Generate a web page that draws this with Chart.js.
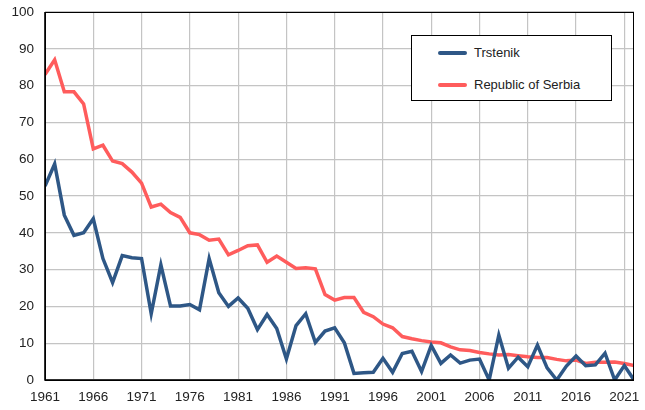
<!DOCTYPE html>
<html>
<head>
<meta charset="utf-8">
<script src="https://cdn.jsdelivr.net/npm/chart.js@4"></script>
<style>
  html, body { margin: 0; padding: 0; background: #fff; }
  #wrap { position: relative; width: 645px; height: 410px; }
  #legend {
    position: absolute; left: 411px; top: 35px; width: 199px; height: 64px;
    border: 1px solid #000; background: #fff;
    font-family: 'Liberation Sans', Arial, sans-serif; font-size: 13px; color: #222;
  }
  .item { position: absolute; left: 26px; height: 16px; line-height: 16px; }
  .swatch { position: absolute; left: 0; top: 6px; width: 29px; height: 4px; border-radius: 2px; }
  .label { position: absolute; left: 36px; top: 0; white-space: nowrap; }
</style>
</head>
<body>
<div id="wrap">
  <canvas id="chart" width="645" height="410"></canvas>
  <div id="legend"></div>
</div>
<script>
// Data
const years = [];
for (let y = 1961; y <= 2022; y++) years.push(y);

const trstenik = [
  52.7, 58.7, 44.8, 39.3, 40.0, 43.8, 33.0, 26.5, 33.8, 33.2,
  33.0, 18.0, 31.3, 20.1, 20.1, 20.5, 19.1, 33.0, 23.7, 20.0,
  22.3, 19.5, 13.7, 17.8, 14.0, 5.7, 14.8, 18.0, 10.2, 13.3,
  14.2, 10.1, 1.8, 2.0, 2.1, 5.9, 2.1, 7.2, 7.8, 2.3,
  9.4, 4.5, 6.8, 4.6, 5.4, 5.7, 0.0, 12.2, 3.2, 6.2,
  3.6, 9.5, 3.3, 0.0, 3.8, 6.5, 3.9, 4.1, 7.3, 0.0,
  3.9, 0.0
];

const serbia = [
  83.0, 87.0, 78.3, 78.3, 75.0, 62.8, 63.8, 59.5, 58.8, 56.5,
  53.5, 47.0, 47.8, 45.5, 44.2, 40.0, 39.5, 38.0, 38.3, 34.0,
  35.2, 36.5, 36.7, 32.0, 33.7, 32.0, 30.3, 30.5, 30.2, 23.2,
  21.7, 22.4, 22.4, 18.4, 17.2, 15.2, 14.2, 11.8, 11.2, 10.7,
  10.3, 10.1, 9.0, 8.2, 8.0, 7.5, 7.1, 6.8, 6.9, 6.6,
  6.3, 6.1, 6.1, 5.6, 5.2, 5.4, 4.5, 4.8, 4.8, 4.9,
  4.5, 3.9
];

const xTicks = [1961, 1966, 1971, 1976, 1981, 1986, 1991, 1996, 2001, 2006, 2011, 2016, 2021];
const yTicks = [0, 10, 20, 30, 40, 50, 60, 70, 80, 90, 100];

const seriesNames = ['Trstenik', 'Republic of Serbia'];
const seriesColors = ['#2e5786', '#ff5c5c'];

const fontFamily = "'Liberation Sans', Arial, sans-serif";

// Box around the plot area
const frame = {
  id: 'frame',
  afterDraw(chart) {
    const { ctx, chartArea: a } = chart;
    ctx.save();
    ctx.strokeStyle = '#000';
    ctx.lineWidth = 1;
    ctx.strokeRect(a.left + 0.5, a.top + 0.5, a.right - a.left - 1, a.bottom - a.top);
    ctx.lineWidth = 1.5;
    ctx.beginPath();
    ctx.moveTo(a.left, a.top);
    ctx.lineTo(a.left, a.bottom);
    ctx.lineTo(a.right, a.bottom);
    ctx.stroke();
    ctx.restore();
  }
};

function toPoints(values) {
  return values.map((v, i) => ({ x: years[i], y: v }));
}

// blue sits over red in the reference
const chart = new Chart(document.getElementById('chart'), {
  type: 'line',
  data: {
    datasets: [
      {
        label: seriesNames[0],
        data: toPoints(trstenik),
        borderColor: seriesColors[0],
        borderWidth: 3.5,
        pointRadius: 0,
        tension: 0,
        order: 0
      },
      {
        label: seriesNames[1],
        data: toPoints(serbia),
        borderColor: seriesColors[1],
        borderWidth: 3.5,
        pointRadius: 0,
        tension: 0,
        order: 1
      }
    ]
  },
  options: {
    responsive: false,
    animation: false,
    layout: { padding: { top: 12, right: 11, left: 0, bottom: 0 } },
    plugins: {
      legend: { display: false },
      tooltip: { enabled: false }
    },
    scales: {
      x: {
        type: 'linear',
        min: 1961,
        max: 2022,
        afterBuildTicks(scale) {
          scale.ticks = xTicks.map(v => ({ value: v }));
        },
        afterFit(scale) {
          scale.height = 30;
          scale.paddingLeft = 0;
          scale.paddingRight = 0;
        },
        grid: { color: '#c4c4c4', lineWidth: 1.2, drawTicks: false },
        border: { display: false },
        ticks: {
          autoSkip: false,
          maxRotation: 0,
          padding: 9,
          color: '#222',
          font: { family: fontFamily, size: 13.5 },
          callback: v => String(v)
        }
      },
      y: {
        min: 0,
        max: 100,
        afterBuildTicks(scale) {
          scale.ticks = yTicks.map(v => ({ value: v }));
        },
        afterFit(scale) {
          scale.width = 45;
          scale.paddingTop = 0;
          scale.paddingBottom = 0;
        },
        grid: { color: '#c4c4c4', lineWidth: 1.2, drawTicks: false },
        border: { display: false },
        ticks: {
          padding: 11,
          color: '#222',
          font: { family: fontFamily, size: 13.5 }
        }
      }
    }
  },
  plugins: [frame]
});

// Legend drawn as html on top of the chart
const legend = document.getElementById('legend');
seriesNames.forEach((name, i) => {
  const item = document.createElement('div');
  item.className = 'item';
  item.style.top = (9 + i * 32) + 'px';
  item.innerHTML = `<span class="swatch" style="background:${seriesColors[i]}"></span><span class="label">${name}</span>`;
  legend.appendChild(item);
});
</script>
</body>
</html>
